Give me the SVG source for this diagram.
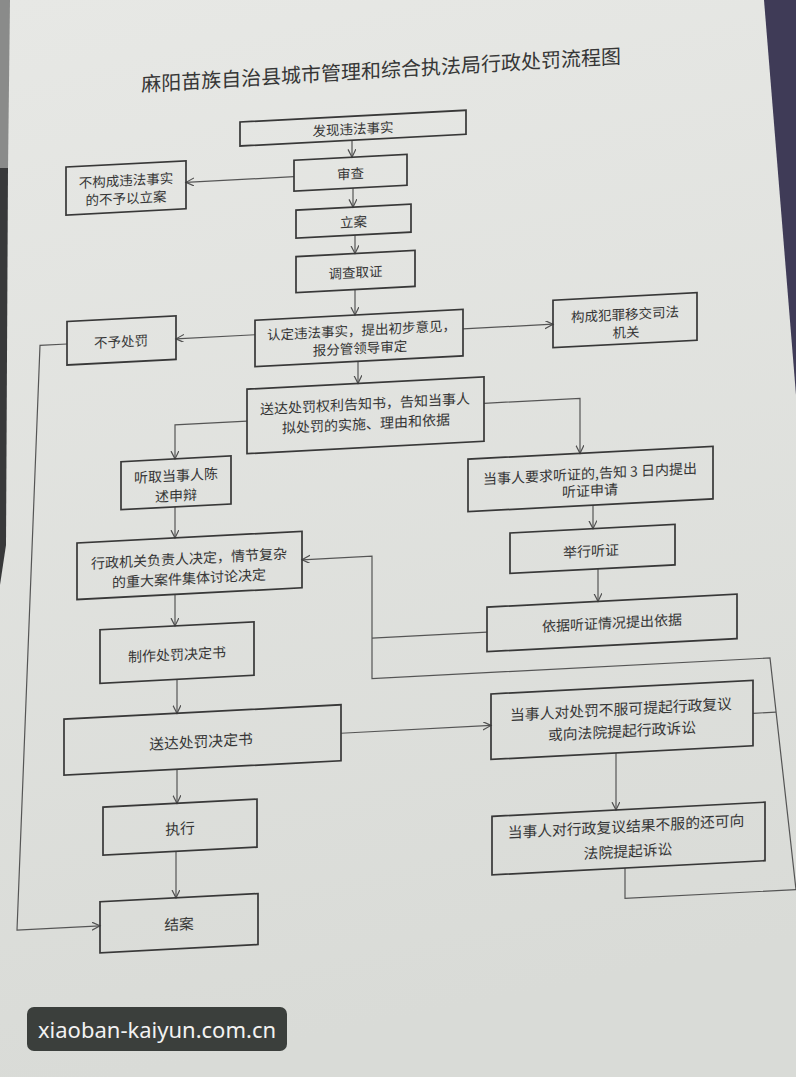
<svg xmlns="http://www.w3.org/2000/svg" width="796" height="1077" viewBox="0 0 796 1077">
<defs>
<linearGradient id="paper" x1="0" y1="0" x2="0.15" y2="1">
<stop offset="0" stop-color="#e7e8e5"/>
<stop offset="1" stop-color="#d9dbd7"/>
</linearGradient>
<marker id="arr" markerUnits="userSpaceOnUse" markerWidth="12" markerHeight="12" refX="8" refY="4" orient="auto">
<path d="M0,0 L8,4 L0,8" fill="none" stroke="#505050" stroke-width="1.2"/>
</marker>
<style>
.box{fill:none;stroke:#383838;stroke-width:1.7}
.t{font-family:'Noto Sans CJK SC','Noto Sans CJK JP',sans-serif;fill:#363636;text-anchor:middle;dominant-baseline:central}
.s13{font-size:13.5px}
.s14{font-size:14px}
.s15{font-size:14.8px}
.c{fill:none;stroke:#555;stroke-width:1.2}
.ca{fill:none;stroke:#555;stroke-width:1.2;marker-end:url(#arr)}
</style>
</defs>
<rect x="0" y="0" width="796" height="1077" fill="url(#paper)"/>
<polygon points="0,0 10,0 8,168 0,170" fill="#8a8b8a"/>
<polygon points="0,168 8,168 6,545 0,585" fill="#38393a"/>
<polygon points="764,0 796,0 796,395" fill="#3f3b57"/>

<g transform="skewY(-2.98)">
<text class="t" x="381" y="88.8" font-size="20" fill="#2e2e2e" transform="rotate(-0.4 381 88.8)">麻阳苗族自治县城市管理和综合执法局行政处罚流程图</text>

<g id="connectors">
<path class="ca" d="M352,158.5 V175.5"/>
<path class="ca" d="M294,192 H186"/>
<path class="ca" d="M353,206.5 V225.5"/>
<path class="ca" d="M355,253.5 V272"/>
<path class="ca" d="M355,308 V333.5"/>
<path class="ca" d="M255,348 H176"/>
<path class="ca" d="M463,353 H553"/>
<path class="ca" d="M67,347.5 H40 L17,931 H100"/>
<path class="ca" d="M358,380 V402"/>
<path class="ca" d="M247,434 H175 V468"/>
<path class="ca" d="M484,428.5 H580 V483.5"/>
<path class="ca" d="M175,516 V547"/>
<path class="ca" d="M593,536 V559.5"/>
<path class="ca" d="M598,600 V632.5"/>
<path class="ca" d="M625,900.5 V931 H796 L770,698 H372 V575.5 H302"/>
<path class="c" d="M487,657.5 H372"/>
<path class="c" d="M753,752.5 H776"/>
<path class="ca" d="M175,603.5 V635"/>
<path class="ca" d="M177,688.5 V722.5"/>
<path class="ca" d="M341,751 H491"/>
<path class="ca" d="M616,785 V842"/>
<path class="ca" d="M177,778.5 V812.5"/>
<path class="ca" d="M176,860.5 V907"/>
</g>

<g id="n1"><rect class="box" x="240" y="134.5" width="226" height="24"/><text class="t s13" x="353" y="146.5">发现违法事实</text></g>
<g id="n2"><rect class="box" x="294" y="175.5" width="113" height="31"/><text class="t s13" x="350.5" y="191">审查</text></g>
<g id="n3"><rect class="box" x="66" y="170.5" width="120" height="48"/><text class="t s13" x="126" y="186">不构成违法事实</text><text class="t s13" x="126" y="204">的不予以立案</text></g>
<g id="n4"><rect class="box" x="296" y="225.5" width="115" height="28"/><text class="t s13" x="353.5" y="239.5">立案</text></g>
<g id="n5"><rect class="box" x="296" y="272" width="119" height="36"/><text class="t s13" x="355.5" y="290">调查取证</text></g>
<g id="n6"><rect class="box" x="255" y="333.5" width="208" height="46.5"/><text class="t s13" x="361.5" y="348">认定违法事实，提出初步意见，</text><text class="t s13" x="360" y="366">报分管领导审定</text></g>
<g id="n7"><rect class="box" x="67" y="325" width="109" height="43.5"/><text class="t s13" x="121" y="347">不予处罚</text></g>
<g id="n8"><rect class="box" x="553" y="329" width="144" height="47.5"/><text class="t s13" x="625" y="346">构成犯罪移交司法</text><text class="t s13" x="626" y="364">机关</text></g>
<g id="n9"><rect class="box" x="247" y="402" width="237" height="64.5"/><text class="t s14" x="365" y="422">送达处罚权利告知书，告知当事人</text><text class="t s14" x="366" y="442">拟处罚的实施、理由和依据</text></g>
<g id="n10"><rect class="box" x="468" y="483.5" width="245" height="52.5"/><text class="t s14" x="590" y="503.5">当事人要求听证的,告知 3 日内提出</text><text class="t s14" x="590" y="520.5">听证申请</text></g>
<g id="n11"><rect class="box" x="121" y="468" width="110" height="48"/><text class="t s14" x="176" y="484">听取当事人陈</text><text class="t s14" x="176" y="504">述申辩</text></g>
<g id="n12"><rect class="box" x="77" y="547" width="225" height="56.5"/><text class="t s14" x="189" y="567.5">行政机关负责人决定，情节复杂</text><text class="t s14" x="189" y="587.5">的重大案件集体讨论决定</text></g>
<g id="n13"><rect class="box" x="510" y="559.5" width="165" height="40.5"/><text class="t s14" x="591" y="581">举行听证</text></g>
<g id="n14"><rect class="box" x="487" y="632.5" width="250" height="44.5"/><text class="t s14" x="612" y="654">依据听证情况提出依据</text></g>
<g id="n15"><rect class="box" x="100" y="635" width="154" height="53.5"/><text class="t s14" x="177" y="663">制作处罚决定书</text></g>
<g id="n16"><rect class="box" x="64" y="722.5" width="277" height="56"/><text class="t s15" x="201" y="751">送达处罚决定书</text></g>
<g id="n17"><rect class="box" x="491" y="719.5" width="262" height="65.5"/><text class="t s15" x="621" y="740.5">当事人对处罚不服可提起行政复议</text><text class="t s15" x="622" y="762.5">或向法院提起行政诉讼</text></g>
<g id="n18"><rect class="box" x="103" y="812.5" width="154" height="48"/><text class="t s15" x="180" y="837">执行</text></g>
<g id="n19"><rect class="box" x="492" y="842" width="273" height="58.5"/><text class="t s15" x="626" y="858">当事人对行政复议结果不服的还可向</text><text class="t s15" x="628" y="883">法院提起诉讼</text></g>
<g id="n20"><rect class="box" x="100" y="907" width="158" height="51"/><text class="t s15" x="179" y="932.5">结案</text></g>
</g>

<g id="watermark">
<rect x="27" y="1007" width="260" height="44" rx="7" fill="#3b3f3c"/>
<text x="157" y="1038" font-family="'Noto Sans','DejaVu Sans',sans-serif" font-size="22" fill="#f2f2f2" text-anchor="middle">xiaoban-kaiyun.com.cn</text>
</g>
</svg>
